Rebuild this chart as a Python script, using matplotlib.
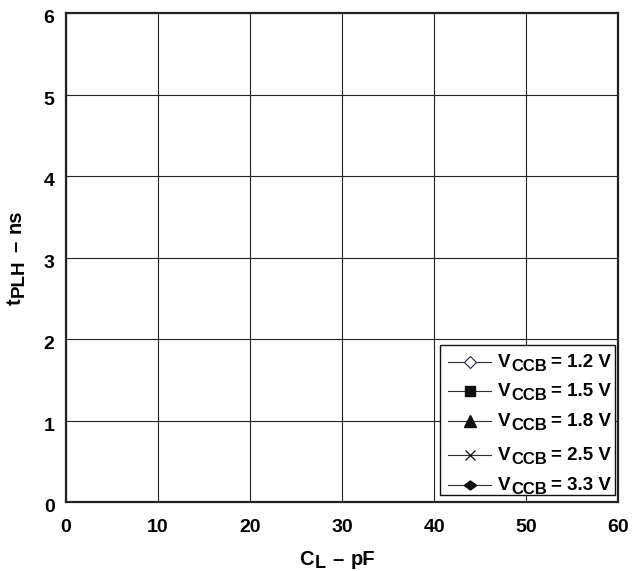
import matplotlib
matplotlib.use("Agg")
import matplotlib.pyplot as plt
from matplotlib.lines import Line2D
from matplotlib.patches import Rectangle
from matplotlib.transforms import ScaledTranslation

plt.rcParams['font.family'] = ['Liberation Sans', 'DejaVu Sans']
plt.rcParams['font.weight'] = 'bold'

# Data (the reference chart shows no plotted points)
cl_pf = []
tplh_12 = []
tplh_15 = []
tplh_18 = []
tplh_25 = []
tplh_33 = []
vccb_values = ['1.2', '1.5', '1.8', '2.5', '3.3']
x_ticks = [0, 10, 20, 30, 40, 50, 60]
y_ticks = [0, 1, 2, 3, 4, 5, 6]

W, H = 636, 571
fig = plt.figure(figsize=(W / 100, H / 100), dpi=100)
ax = fig.add_axes([65.7 / W, 1 - 502 / H, (618.5 - 65.7) / W, (502 - 13.3) / H])

flat_diamond = [(-1, 0), (0, 0.72), (1, 0), (0, -0.72), (-1, 0)]
styles = [
    dict(marker='D', markerfacecolor='white', markeredgecolor='#222244', markersize=6, markeredgewidth=0.8),
    dict(marker='s', markerfacecolor='#111111', markeredgecolor='#111111', markersize=7),
    dict(marker='^', markerfacecolor='#111111', markeredgecolor='#111111', markersize=8.5),
    dict(marker='x', markerfacecolor='#111111', markeredgecolor='#111111', markersize=6.5, markeredgewidth=0.9),
    dict(marker=flat_diamond, markerfacecolor='#111111', markeredgecolor='#111111', markersize=9),
]
lines = []
for ys, st in zip([tplh_12, tplh_15, tplh_18, tplh_25, tplh_33], styles):
    ln, = ax.plot(cl_pf[:len(ys)], ys, color='#333333', linewidth=0.8, **st)
    lines.append(ln)

ax.set_xlim(0, 60)
ax.set_ylim(0, 6)
ax.set_xticks(x_ticks)
ax.set_yticks(y_ticks)
ax.tick_params(length=0, labelsize=14)
ax.tick_params(axis='x', pad=12)
ax.tick_params(axis='y', pad=8)
for t in ax.yaxis.get_major_ticks():
    t.label1.set_transform(t.label1.get_transform() + ScaledTranslation(0, -3.5 / 100, fig.dpi_scale_trans))
for lbl in ax.get_xticklabels() + ax.get_yticklabels():
    lbl.set_fontweight('bold')
ax.grid(True, color='#222222', linewidth=0.8)
for s in ax.spines.values():
    s.set_linewidth(1.6)
    s.set_color('#222222')

renderer = fig.canvas.get_renderer()


def text_width(s, size):
    t = fig.text(0, 0, s, fontsize=size, fontweight='bold')
    w = t.get_window_extent(renderer).width
    t.remove()
    return w


def rich(pieces, x_px, y_px, rotation=0, align='center'):
    """pieces: (text, size, drop_px, gap_before_px); x_px, y_px = baseline anchor in pixels (top-left origin)."""
    widths = [text_width(p[0], p[1]) for p in pieces]
    total = sum(widths) + sum(p[3] for p in pieces)
    pos = -total / 2 if align == 'center' else 0
    for (s, size, drop, gap), w in zip(pieces, widths):
        pos += gap
        if rotation == 0:
            px, py = x_px + pos, y_px + drop
        else:
            px, py = x_px + drop, y_px - pos
        fig.text(px / W, 1 - py / H, s, fontsize=size, fontweight='bold',
                 ha='left', va='baseline', rotation=rotation, rotation_mode='anchor',
                 zorder=10)
        pos += w


# Axis labels
rich([('C', 14.5, 0, 0), ('L', 13, 3, 1), ('–', 14.5, 0, 7), ('pF', 14.5, 0, 7)], 337, 565)
rich([('t', 14.5, 0, 0), ('PLH', 13.5, 3, 1), ('–', 14.5, 0, 8), ('ns', 14.5, 0, 8)],
     21, 257, rotation=90)

# Legend (frame, handles, labels)
fig.patches.append(Rectangle((440 / W, 1 - 495 / H), (615 - 440) / W, (495 - 345) / H,
                             transform=fig.transFigure, facecolor='white',
                             edgecolor='#111111', linewidth=1.0, zorder=5))
entry_y = [362, 391, 421, 455, 485]
for ln, v, ey in zip(lines, vccb_values, entry_y):
    h = Line2D([448 / W, 491 / W], [1 - ey / H, 1 - ey / H], transform=fig.transFigure,
               color=ln.get_color(), linewidth=ln.get_linewidth(), zorder=6)
    fig.lines.append(h)
    m = Line2D([469.5 / W], [1 - ey / H], transform=fig.transFigure, linestyle='none',
               marker=ln.get_marker(), markersize=ln.get_markersize(),
               markerfacecolor=ln.get_markerfacecolor(), markeredgecolor=ln.get_markeredgecolor(),
               markeredgewidth=ln.get_markeredgewidth(), zorder=7)
    fig.lines.append(m)
    rich([('V', 13.5, 0, 0), ('CCB', 12, 4, 0.5), ('= ' + v + ' V', 13.5, 0, 4)],
         498, ey + 5, align='left')

fig.savefig('out.png', dpi=100)
